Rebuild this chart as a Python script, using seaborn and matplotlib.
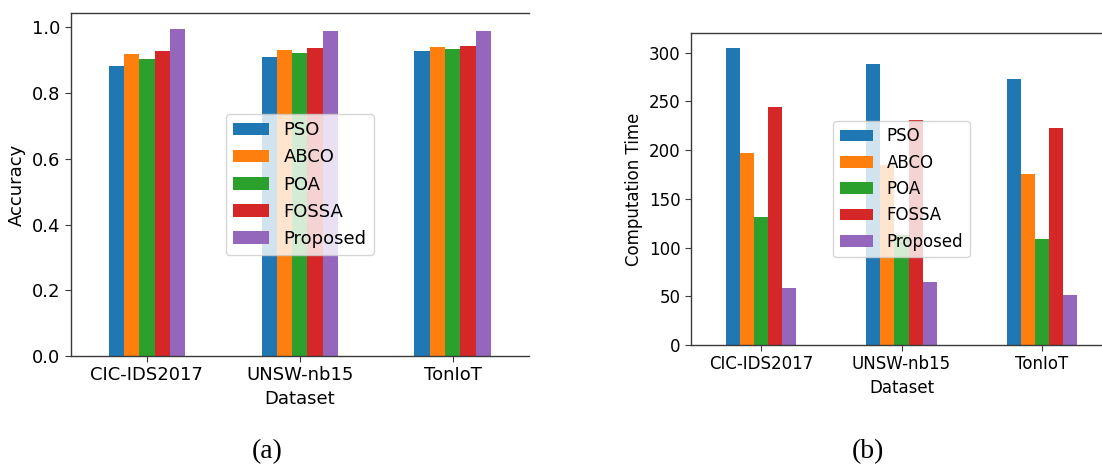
import numpy as np
import pandas as pd
import matplotlib
matplotlib.use("Agg")
import matplotlib.pyplot as plt
import seaborn as sns

datasets = ["CIC-IDS2017", "UNSW-nb15", "TonIoT"]
methods = ["PSO", "ABCO", "POA", "FOSSA", "Proposed"]

accuracy = {
    "PSO":      [0.883, 0.910, 0.927],
    "ABCO":     [0.918, 0.931, 0.941],
    "POA":      [0.905, 0.921, 0.934],
    "FOSSA":    [0.929, 0.938, 0.944],
    "Proposed": [0.994, 0.989, 0.989],
}

comp_time = {
    "PSO":      [305, 288, 273],
    "ABCO":     [197, 185, 176],
    "POA":      [131, 113, 109],
    "FOSSA":    [244, 231, 223],
    "Proposed": [59, 65, 51],
}

palette = ["#1f77b4", "#ff7f0e", "#2ca02c", "#d62728", "#9467bd"]


def to_long(table, name):
    rows = []
    for m in methods:
        for d, v in zip(datasets, table[m]):
            rows.append({"Dataset": d, "Method": m, name: v})
    return pd.DataFrame(rows)


df_acc = to_long(accuracy, "Accuracy")
df_time = to_long(comp_time, "Computation Time")

W, H = 1102, 466
fig = plt.figure(figsize=(W / 100, H / 100), dpi=100)

ax1 = fig.add_axes([70.5 / W, 1 - 356 / H, (529 - 70.5) / W, (356 - 13) / H])
ax2 = fig.add_axes([691 / W, 1 - 345 / H, (1112 - 691) / W, (345 - 33) / H])


def draw(ax, df, col, fs):
    sns.barplot(data=df, x="Dataset", y=col, hue="Method", order=datasets,
                hue_order=methods, palette=palette, saturation=1,
                width=0.5, gap=0, errorbar=None, linewidth=0, ax=ax)
    ax.set_xlim(-0.5, 2.5)
    ax.spines["right"].set_visible(False)
    for s in ["left", "top", "bottom"]:
        ax.spines[s].set_color("#3a3a3a")
        ax.spines[s].set_linewidth(1.0)
    ax.tick_params(labelsize=fs, color="#3a3a3a", length=4)
    ax.set_xlabel("Dataset", fontsize=fs)
    ax.set_ylabel(col, fontsize=fs)
    ax.legend(loc="center", fontsize=fs, framealpha=0.8)


draw(ax1, df_acc, "Accuracy", 13)
ticks1 = np.arange(0, 1.01, 0.2)
ax1.set_yticks(ticks1)
ax1.set_yticklabels([f"{v:.1f}" for v in ticks1])
ax1.set_ylim(0, max(max(v) for v in accuracy.values()) * 1.05)

draw(ax2, df_time, "Computation Time", 12)
ax2.set_yticks(np.arange(0, 301, 50))
ax2.set_ylim(0, max(max(v) for v in comp_time.values()) * 1.05)

fig.text(267 / W, 1 - 452 / H, "(a)", family="Liberation Serif", fontsize=20,
         ha="center", va="center")
fig.text(868 / W, 1 - 452 / H, "(b)", family="Liberation Serif", fontsize=20,
         ha="center", va="center")

fig.savefig("out.png", dpi=100)
